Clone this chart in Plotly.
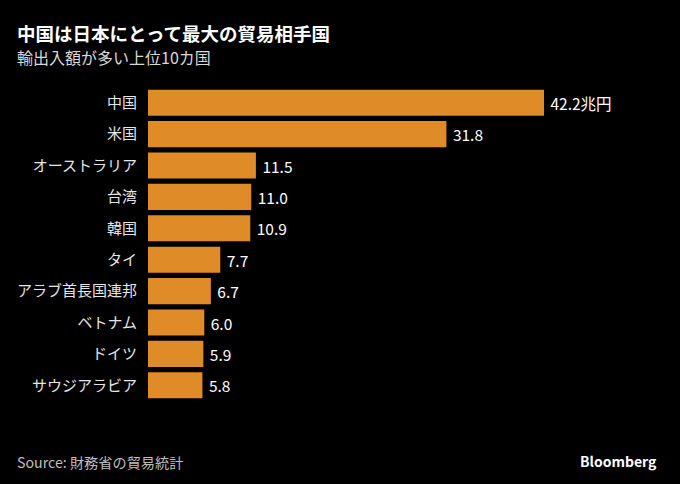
import plotly.graph_objects as go

countries = ["中国", "米国", "オーストラリア", "台湾", "韓国", "タイ", "アラブ首長国連邦", "ベトナム", "ドイツ", "サウジアラビア"]
values = [42.2, 31.8, 11.5, 11.0, 10.9, 7.7, 6.7, 6.0, 5.9, 5.8]
unit = "兆円"

labels = [f"{v:.1f}{unit}" if i == 0 else f"{v:.1f}" for i, v in enumerate(values)]

W, H = 680, 484
L, R, T, B = 148, 0, 87, 83
ph = H - T - B
pw = W - L - R

def py(p):
    return (H - B - p) / ph

def px(p):
    return (p - L) / pw

FONT = "Noto Sans CJK JP"

fig = go.Figure(go.Bar(
    x=values, y=countries, orientation="h",
    marker=dict(color="#DF8B27", line=dict(width=0)),
    text=labels, texttemplate=" %{text}", textposition="outside",
    textfont=dict(color="#FFFFFF", size=15.5, family=FONT),
    cliponaxis=False, hoverinfo="skip",
))

fig.update_layout(
    width=W, height=H,
    margin=dict(l=L, r=R, t=T, b=B),
    paper_bgcolor="#000000", plot_bgcolor="#000000",
    bargap=0.17,
    showlegend=False,
    xaxis=dict(range=[0, 42.2 * pw / 396], visible=False, fixedrange=True),
    yaxis=dict(autorange="reversed", showgrid=False, zeroline=False, showline=False,
               ticks="", ticklabelstandoff=10, fixedrange=True,
               tickfont=dict(color="#E6E6E6", size=15, family=FONT)),
    font=dict(family=FONT),
    annotations=[
        dict(text="<b>中国は日本にとって最大の貿易相手国</b>", x=px(15), y=py(33), xref="paper", yref="paper",
             xanchor="left", yanchor="middle", showarrow=False,
             font=dict(size=18.5, color="#FFFFFF", family=FONT)),
        dict(text="輸出入額が多い上位10カ国", x=px(15), y=py(57), xref="paper", yref="paper",
             xanchor="left", yanchor="middle", showarrow=False,
             font=dict(size=16, color="#D9D9D9", family=FONT)),
        dict(text="Source: 財務省の貿易統計", x=px(15), y=py(462), xref="paper", yref="paper",
             xanchor="left", yanchor="middle", showarrow=False,
             font=dict(size=14.2, color="#BFBFBF", family=FONT)),
        dict(text="<b>Bloomberg</b>", x=px(659), y=py(461), xref="paper", yref="paper",
             xanchor="right", yanchor="middle", showarrow=False,
             font=dict(size=14, color="#FFFFFF", family=FONT)),
    ],
)

fig.write_html("out.html", config={"displayModeBar": False},
               post_script="document.body.style.margin='0';document.body.style.background='#000';")
